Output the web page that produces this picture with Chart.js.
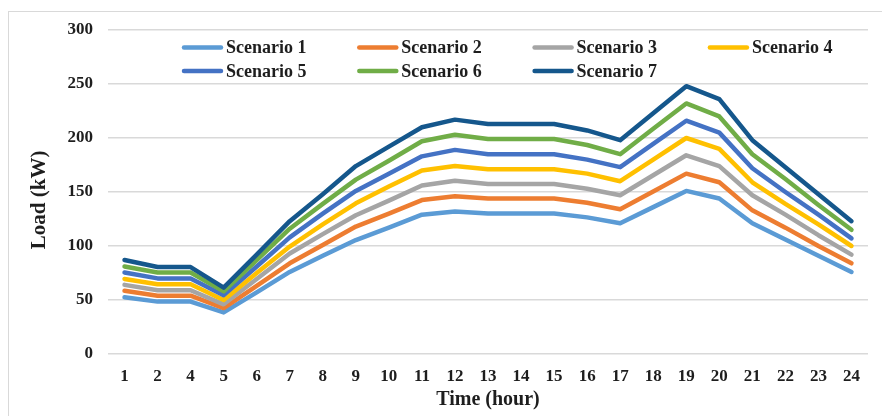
<!DOCTYPE html>
<html lang="en">

<head>
    <meta charset="UTF-8">
    <title>Load by scenario</title>
    <script src="https://cdn.jsdelivr.net/npm/chart.js@4.4.1/dist/chart.umd.min.js"></script>
    <style>
        html, body { margin: 0; padding: 0; background: #fff; }
        .chart-box { position: relative; width: 882px; height: 416px; }
    </style>
</head>

<body>
    <div class="chart-box">
        <canvas id="loadChart" width="882" height="416"></canvas>
    </div>

    <script>
        // hour 3 is missing on the original axis
        var hours = ["1", "2", "4", "5", "6", "7", "8", "9", "10", "11", "12", "13", "14", "15", "16", "17", "18", "19", "20", "21", "22", "23", "24"];

        var scenario1 = [52.5, 48.5, 48.5, 38.5, 57, 76, 91, 105.5, 117, 129, 132, 130, 130, 130, 126.5, 121, 136, 151, 144, 121, 106, 91, 76];
        var scenario2 = [58.5, 54, 54, 42.5, 63, 84, 101, 118, 130, 142.5, 146, 144, 144, 144, 140, 134, 150.5, 167, 159, 133, 117, 100, 84];
        var scenario3 = [64, 59, 59, 46, 69.5, 93, 111, 128.5, 142, 156, 160.5, 157.5, 157.5, 157.5, 153, 147, 165.5, 184, 174, 147, 129, 110, 92];
        var scenario4 = [69.5, 64.5, 64.5, 50, 75, 99.5, 120, 139.5, 155, 170, 174, 171, 171, 171, 167, 160, 180, 200, 190, 159, 139, 120, 100];
        var scenario5 = [75.5, 70, 70, 54.5, 81, 108, 130, 151, 167, 183, 189, 185, 185, 185, 180, 173, 194.5, 216, 205, 172, 150, 129, 107];
        var scenario6 = [81, 75.5, 75.5, 58, 87, 116, 139, 161.5, 179, 197, 203, 199, 199, 199, 193.5, 185, 208.5, 232, 220, 185, 162, 138, 115];
        var scenario7 = [87, 80.5, 80.5, 61.5, 92, 123, 148, 174, 192, 210, 217, 213, 213, 213, 207, 198, 223, 248, 236, 198, 173, 148, 123];

        var seriesNames = ["Scenario 1", "Scenario 2", "Scenario 3", "Scenario 4", "Scenario 5", "Scenario 6", "Scenario 7"];
        var seriesData = [scenario1, scenario2, scenario3, scenario4, scenario5, scenario6, scenario7];
        var colors = ["#5b9bd5", "#ed7d31", "#a5a5a5", "#ffc000", "#4472c4", "#70ad47", "#15578c"];

        var fontFamily = '"Liberation Serif", "Times New Roman", serif';
        var textColor = "#1e1e1e";

        var datasets = [];
        for (let i = 0; i < seriesData.length; i++) {
            datasets.push({
                label: seriesNames[i],
                data: seriesData[i],
                borderColor: colors[i],
                backgroundColor: colors[i],
                borderWidth: 4.5,
                borderJoinStyle: "round",
                borderCapStyle: "round",
                pointRadius: 0,
                tension: 0,
                order: seriesData.length - i
            });
        }

        // outer frame of the chart object
        const framePlugin = {
            id: "frame",
            beforeDraw(chart) {
                const ctx = chart.ctx;
                ctx.save();
                ctx.strokeStyle = "#d9d9d9";
                ctx.lineWidth = 1;
                ctx.strokeRect(8.5, 11.5, 900, 500);
                ctx.restore();
            }
        };

        // legend sits inside the plot, in 4 columns
        const legendPlugin = {
            id: "gridLegend",
            afterDraw(chart) {
                const ctx = chart.ctx;
                ctx.save();
                ctx.font = "bold 18px " + fontFamily;
                ctx.textBaseline = "middle";
                ctx.textAlign = "left";
                chart.data.datasets.forEach((ds, i) => {
                    const col = i % 4;
                    const row = Math.floor(i / 4);
                    const x = 184 + col * 175.3;
                    const y = 47.5 + row * 23.5;
                    ctx.strokeStyle = ds.borderColor;
                    ctx.lineWidth = 4.5;
                    ctx.lineCap = "round";
                    ctx.beginPath();
                    ctx.moveTo(x, y);
                    ctx.lineTo(x + 37, y);
                    ctx.stroke();
                    ctx.fillStyle = textColor;
                    ctx.fillText(ds.label, x + 42, y + 1);
                });
                ctx.restore();
            }
        };

        new Chart("loadChart", {
            type: "line",
            data: {
                labels: hours,
                datasets: datasets
            },
            plugins: [framePlugin, legendPlugin],
            options: {
                responsive: false,
                animation: false,
                layout: {
                    padding: { left: 20, right: 14, top: 30, bottom: 0 }
                },
                plugins: {
                    legend: { display: false },
                    tooltip: { enabled: false }
                },
                scales: {
                    x: {
                        offset: true,
                        grid: { display: false },
                        border: { display: false },
                        ticks: {
                            color: textColor,
                            padding: 4,
                            maxRotation: 0,
                            autoSkip: false,
                            font: { family: fontFamily, size: 17, weight: "bold" }
                        },
                        title: {
                            display: true,
                            text: "Time (hour)",
                            color: textColor,
                            padding: { top: 0, bottom: 4 },
                            font: { family: fontFamily, size: 20, weight: "bold" }
                        },
                        afterFit: function (scale) { scale.height = 62; }
                    },
                    y: {
                        min: 0,
                        max: 300,
                        ticks: {
                            stepSize: 50,
                            color: textColor,
                            padding: 15,
                            font: { family: fontFamily, size: 17, weight: "bold" }
                        },
                        grid: {
                            color: "#d9d9d9",
                            lineWidth: 1.5,
                            drawTicks: false
                        },
                        border: { display: false },
                        title: {
                            display: true,
                            // trailing spaces nudge the title a bit below the axis middle, as in the original
                            text: "Load (kW)   ",
                            color: textColor,
                            padding: { top: 6.6, bottom: 0 },
                            font: { family: fontFamily, size: 21, weight: "bold" }
                        },
                        afterFit: function (scale) { scale.width = 88; }
                    }
                }
            }
        });
    </script>
</body>

</html>
